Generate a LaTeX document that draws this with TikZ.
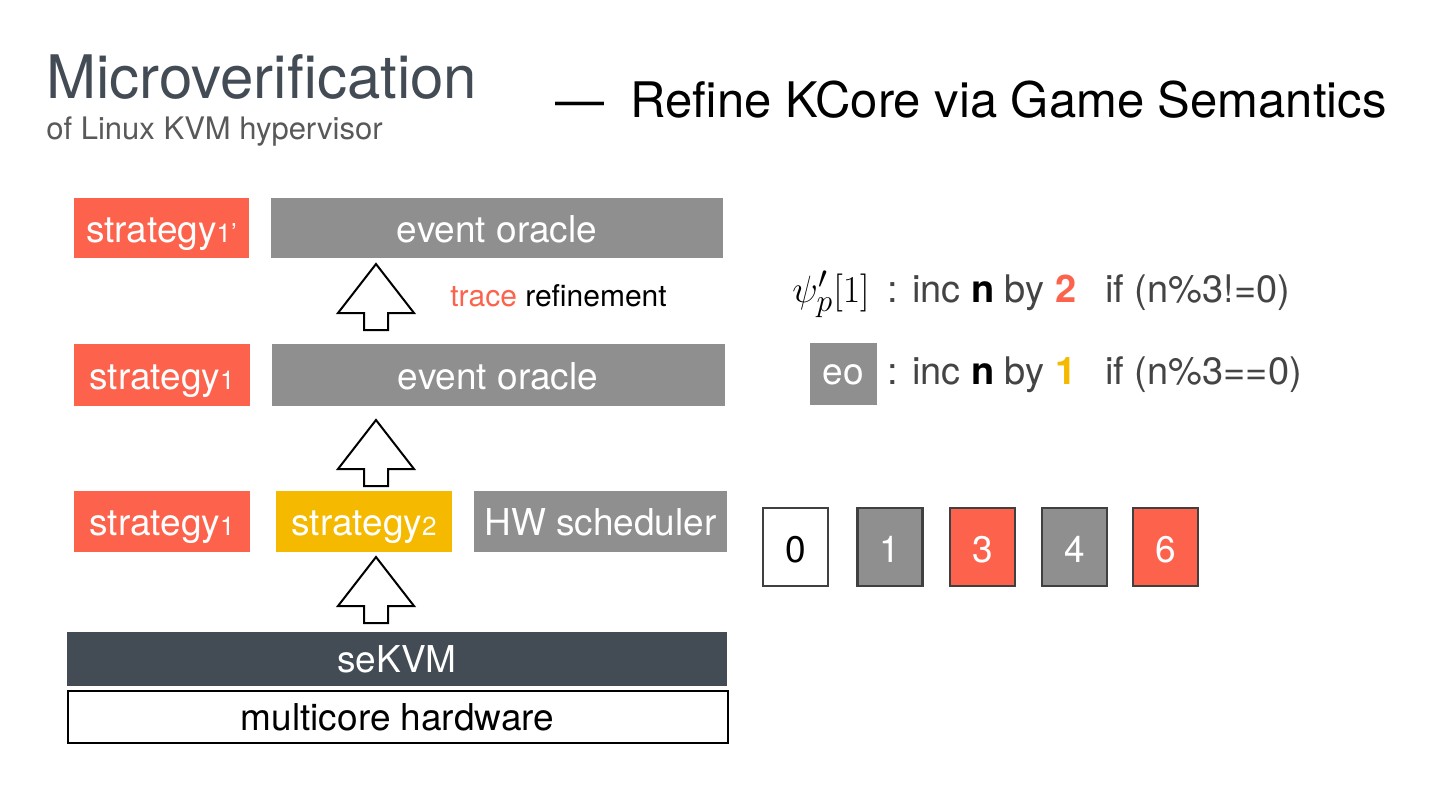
\documentclass[tikz,border=0pt]{standalone}
\usepackage[no-math]{fontspec}
\setmainfont{TeX Gyre Heros}
\usepackage{tikz}
\usetikzlibrary{positioning}
\usepackage{xcolor}

\definecolor{slred}{HTML}{FD634C}
\definecolor{slgray}{HTML}{8F8F8F}
\definecolor{slyellow}{HTML}{F5B900}
\definecolor{sldark}{HTML}{434C55}
\definecolor{sltext}{HTML}{444444}
\newcommand\stidx[1]{{\fontsize{13}{13}\selectfont #1}}

\tikzset{
  layer/.style={inner sep=0pt, text=white, text height=14pt, text depth=0pt,
    font=\fontsize{18.5}{22}\selectfont},
  redbox/.style={layer, fill=slred},
  graybox/.style={layer, fill=slgray},
  yellowbox/.style={layer, fill=slyellow},
  numbox/.style={draw=black!75, line width=1.25pt, minimum width=32.5pt,
    minimum height=39pt, inner sep=0pt, text height=15pt, text depth=0pt,
    font=\fontsize{18.5}{22}\selectfont},
  rule/.style={anchor=base west, inner sep=0pt, text=sltext,
    font=\fontsize{19}{22}\selectfont},
  blockup/.pic={\draw[line width=1pt, fill=white] (-12,0) -- (-12,-17) -- (-38,-17)
    -- (0,-66) -- (38,-17) -- (12,-17) -- (12,0) -- cycle;}
}

\begin{document}
\begin{tikzpicture}[x=0.5pt, y=-0.5pt]
  \fill[white] (0,0) rectangle (1440,810);
  \useasboundingbox (0,0) rectangle (1440,810);

  % title
  \node[anchor=base west, inner sep=0pt, text=sldark, font=\fontsize{30}{34}\selectfont]
    (title) at (46,98) {Microverification};
  \node[anchor=base west, inner sep=0pt, text=black!65, font=\fontsize{15.5}{18}\selectfont]
    (subtitle) at (46,139) {of Linux KVM hypervisor};
  \node[anchor=base west, inner sep=0pt, font=\fontsize{24.5}{28}\selectfont]
    (topic) at (555,117) {—\hspace{13pt}Refine KCore via Game Semantics};

  % layers
  \node[redbox, minimum width=87.5pt, minimum height=30pt] (st1p) at (161.5,228) {strategy\stidx{1’}};
  \node[graybox, minimum width=226pt, minimum height=30pt] (eotop) at (497,228) {event oracle};
  \node[redbox, minimum width=88pt, minimum height=31pt] (st1a) at (162,375) {strategy\stidx{1}};
  \node[graybox, minimum width=226.5pt, minimum height=31pt] (eomid) at (498,375) {event oracle};
  \node[redbox, minimum width=88pt, minimum height=30.5pt] (st1b) at (162,521.5) {strategy\stidx{1}};
  \node[yellowbox, minimum width=88pt, minimum height=30.5pt] (st2) at (364,521.5) {strategy\stidx{2}};
  \node[graybox, minimum width=126.5pt, minimum height=30.5pt] (hwsched) at (600.5,521.5) {HW scheduler};
  \node[layer, fill=sldark, minimum width=330pt, minimum height=27pt, text height=13pt] (sekvm) at (397,659) {seKVM};
  \node[layer, draw=black, line width=1pt, fill=white, text=black, minimum width=330pt,
    minimum height=26pt, text height=13pt] (hardware) at (397.5,717) {multicore hardware};

  % refinement arrows
  \pic at (376,330) {blockup};
  \pic at (376,486) {blockup};
  \pic at (376,623) {blockup};
  \node[anchor=base west, inner sep=0pt, font=\fontsize{15}{18}\selectfont]
    (refine) at (450,306) {\textcolor{slred}{trace} refinement};

  % oracle rules
  \node[anchor=base west, inner sep=0pt, scale=1.1, font=\fontsize{19}{22}\selectfont]
    (psi) at (792,302) {$\psi'_p[1]$};
  \node[rule] (rule1) at (887,302) {: inc \textcolor{black}{\textbf{n}} by \textcolor{slred}{\textbf{2}}};
  \node[rule] (cond1) at (1105,302) {if (n\%3!=0)};
  \node[graybox, minimum width=33.5pt, minimum height=31pt, text height=10pt] (eo) at (843.5,374) {eo};
  \node[rule] (rule2) at (887,384) {: inc \textcolor{black}{\textbf{n}} by \textcolor{slyellow}{\textbf{1}}};
  \node[rule] (cond2) at (1105,384) {if (n\%3==0)};

  % trace of n
  \foreach \val/\xc/\fc/\tc in {0/795.5/white/black, 1/890/slgray/white, 3/982.5/slred/white,
    4/1074.5/slgray/white, 6/1165.5/slred/white}
    \node[numbox, fill=\fc, text=\tc] (num\val) at (\xc,547) {\val};
\end{tikzpicture}
\end{document}
